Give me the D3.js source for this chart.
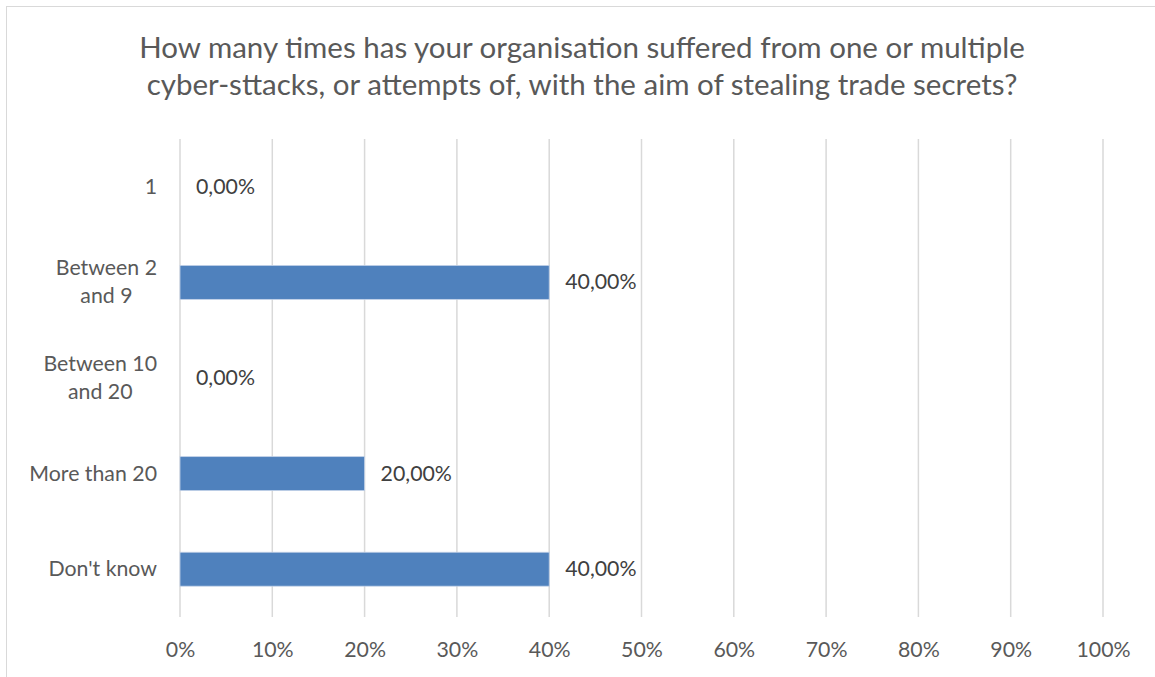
<!DOCTYPE html>
<html><head><meta charset="utf-8">
<script src="https://cdn.jsdelivr.net/npm/d3@7"></script>
<style>body{margin:0;background:#fff}svg{display:block}</style>
</head><body>
<svg id="c" width="1155" height="677"></svg>
<script>
const titleLines = ["How many times has your organisation suffered from one or multiple",
                    "cyber-sttacks, or attempts of, with the aim of stealing trade secrets?"];
const categories = [["1"], ["Between 2", "and 9"], ["Between 10", "and 20"], ["More than 20"], ["Don't know"]];
const values = [0, 0.40, 0, 0.20, 0.40];
const valueLabels = ["0,00%", "40,00%", "0,00%", "20,00%", "40,00%"];
const xTicks = [0, 0.1, 0.2, 0.3, 0.4, 0.5, 0.6, 0.7, 0.8, 0.9, 1.0];

const font = "Lato, sans-serif";
const grey = "#595959";
const fs = 21.3;
const svg = d3.select("#c");

svg.append("rect").attr("x", 6.5).attr("y", 6.5).attr("width", 1160).attr("height", 680)
  .attr("fill", "#fff").attr("stroke", "#d9d9d9").attr("stroke-width", 1);

const x = d3.scaleLinear().domain([0, 1]).range([180, 1103]);
const y = d3.scaleBand().domain(d3.range(categories.length)).range([139, 617]).paddingInner(0.645).paddingOuter(0.3225);

svg.append("g").selectAll("line").data(xTicks).join("line")
  .attr("x1", d => x(d)).attr("x2", d => x(d)).attr("y1", 139).attr("y2", 617)
  .attr("stroke", "#d9d9d9").attr("stroke-width", 1.5);

const xAxis = d3.axisBottom(x).tickValues(xTicks).tickFormat(d3.format(".0%")).tickSize(0).tickPadding(0);
const gx = svg.append("g").attr("transform", "translate(0,617)").call(xAxis);
gx.select(".domain").remove();
gx.selectAll("text").attr("font-family", font).attr("font-size", fs).attr("fill", grey)
  .attr("dy", null).attr("y", 40);

svg.append("g").selectAll("rect").data(values).join("rect")
  .attr("x", x(0)).attr("y", (d, i) => y(i)).attr("width", d => x(d) - x(0)).attr("height", y.bandwidth())
  .attr("fill", "#4f81bd").attr("stroke", "#c3d2e8").attr("stroke-width", d => d > 0 ? 0.8 : 0);

svg.append("g").selectAll("text").data(values).join("text")
  .attr("x", d => x(d) + 16).attr("y", (d, i) => y(i) + y.bandwidth() / 2 + 7)
  .attr("font-family", font).attr("font-size", fs).attr("fill", "#404040")
  .text((d, i) => valueLabels[i]);

categories.forEach((lines, i) => {
  const g = svg.append("g");
  const cy = y(i) + y.bandwidth() / 2;
  const lh = 28;
  const t = g.selectAll("text").data(lines).join("text")
    .attr("font-family", font).attr("font-size", fs).attr("fill", grey)
    .attr("text-anchor", "middle")
    .attr("y", (d, j) => cy + 7 + (j - (lines.length - 1) / 2) * lh)
    .text(d => d);
  let maxW = 0;
  t.each(function () { maxW = Math.max(maxW, this.getComputedTextLength()); });
  t.attr("x", 157 - maxW / 2);
});

svg.append("g").selectAll("text").data(titleLines).join("text")
  .attr("x", 582).attr("y", (d, i) => 58 + i * 37)
  .attr("text-anchor", "middle").attr("font-family", font).attr("font-size", 29.5).attr("fill", grey)
  .text(d => d);
</script>
</body></html>
